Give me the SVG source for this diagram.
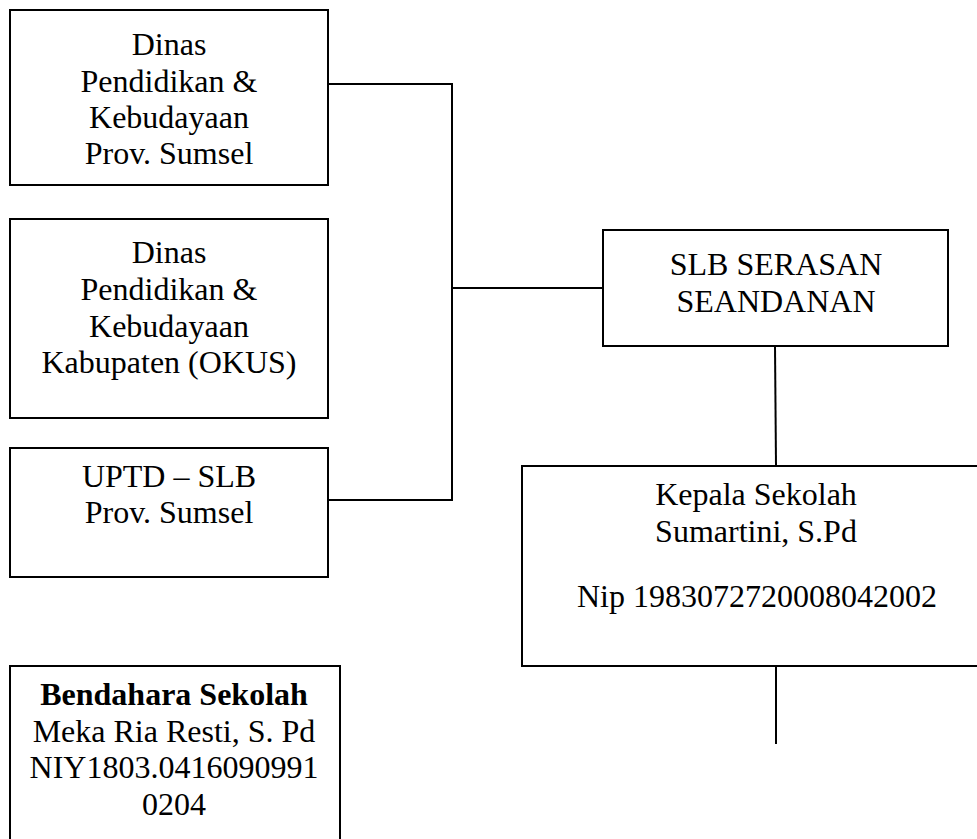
<svg xmlns="http://www.w3.org/2000/svg" width="977" height="839" viewBox="0 0 977 839">
<style>
.box{fill:#fff;stroke:#000;stroke-width:2}
.c{fill:none;stroke:#000;stroke-width:2}
</style>
<rect width="977" height="839" fill="#fff"/>
<g id="connectors">
<polyline class="c" points="328,84 452,84 452,500 328,500"/>
<line class="c" x1="452" y1="288" x2="603" y2="288"/>
<line class="c" x1="775" y1="346" x2="776" y2="466"/>
<line class="c" x1="776" y1="666" x2="776" y2="744"/>
</g>
<g id="dinas-prov">
<rect class="box" x="10" y="10" width="318" height="175"/>
<text font-family="Liberation Serif" font-size="32" text-anchor="middle" x="169" y="55">Dinas</text>
<text font-family="Liberation Serif" font-size="32" text-anchor="middle" x="169" y="92">Pendidikan &amp;</text>
<text font-family="Liberation Serif" font-size="32" text-anchor="middle" x="169" y="128">Kebudayaan</text>
<text font-family="Liberation Serif" font-size="32" text-anchor="middle" x="169" y="164">Prov. Sumsel</text>
</g>
<g id="dinas-kab">
<rect class="box" x="10" y="219" width="318" height="199"/>
<text font-family="Liberation Serif" font-size="32" text-anchor="middle" x="169" y="263">Dinas</text>
<text font-family="Liberation Serif" font-size="32" text-anchor="middle" x="169" y="300">Pendidikan &amp;</text>
<text font-family="Liberation Serif" font-size="32" text-anchor="middle" x="169" y="337">Kebudayaan</text>
<text font-family="Liberation Serif" font-size="32" text-anchor="middle" x="169" y="373">Kabupaten (OKUS)</text>
</g>
<g id="uptd">
<rect class="box" x="10" y="448" width="318" height="129"/>
<text font-family="Liberation Serif" font-size="32" text-anchor="middle" x="169" y="487">UPTD – SLB</text>
<text font-family="Liberation Serif" font-size="32" text-anchor="middle" x="169" y="523">Prov. Sumsel</text>
</g>
<g id="slb">
<rect class="box" x="603" y="230" width="345" height="116"/>
<text font-family="Liberation Serif" font-size="32" text-anchor="middle" x="776" y="275">SLB SERASAN</text>
<text font-family="Liberation Serif" font-size="32" text-anchor="middle" x="776" y="312">SEANDANAN</text>
</g>
<g id="kepala">
<rect class="box" x="522" y="466" width="470" height="200"/>
<text font-family="Liberation Serif" font-size="32" text-anchor="middle" x="756" y="505">Kepala Sekolah</text>
<text font-family="Liberation Serif" font-size="32" text-anchor="middle" x="756" y="542">Sumartini, S.Pd</text>
<text font-family="Liberation Serif" font-size="32" text-anchor="middle" x="757" y="607">Nip 1983072720008042002</text>
</g>
<g id="bendahara">
<rect class="box" x="10" y="666" width="330" height="190"/>
<text font-family="Liberation Serif" font-size="32" font-weight="bold" text-anchor="middle" x="174" y="705">Bendahara Sekolah</text>
<text font-family="Liberation Serif" font-size="32" text-anchor="middle" x="174" y="742">Meka Ria Resti, S. Pd</text>
<text font-family="Liberation Serif" font-size="32" text-anchor="middle" x="174" y="778">NIY1803.0416090991</text>
<text font-family="Liberation Serif" font-size="32" text-anchor="middle" x="174" y="815">0204</text>
</g>
</svg>
